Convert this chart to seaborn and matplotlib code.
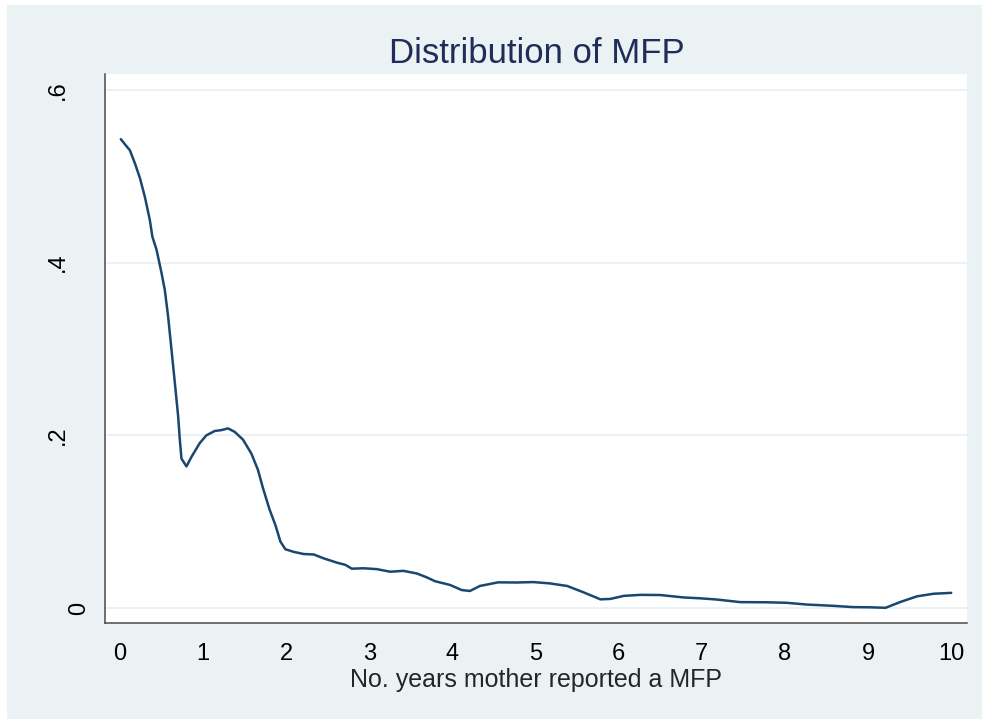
import matplotlib
matplotlib.use("Agg")
import matplotlib.pyplot as plt
import seaborn as sns
import pandas as pd
from matplotlib.patches import Rectangle

# ---- data ----
years = [0.01, 0.12, 0.18, 0.24, 0.30, 0.36, 0.39, 0.44, 0.50, 0.54, 0.58, 0.62,
         0.66, 0.70, 0.72, 0.74, 0.80, 0.86, 0.96, 1.04, 1.14, 1.22, 1.30, 1.38,
         1.48, 1.58, 1.66, 1.72, 1.80, 1.87, 1.93, 1.99, 2.09, 2.21, 2.33, 2.45,
         2.61, 2.71, 2.79, 2.93, 3.09, 3.25, 3.41, 3.57, 3.69, 3.79, 3.97, 4.11,
         4.21, 4.33, 4.55, 4.77, 4.97, 5.17, 5.38, 5.58, 5.78, 5.90, 6.06, 6.26,
         6.50, 6.78, 6.98, 7.18, 7.46, 7.78, 8.02, 8.26, 8.58, 8.82, 9.02, 9.21,
         9.39, 9.59, 9.79, 10.0]
density = [0.543, 0.530, 0.515, 0.498, 0.476, 0.449, 0.430, 0.415, 0.388, 0.368,
           0.337, 0.299, 0.261, 0.222, 0.195, 0.173, 0.164, 0.175, 0.191, 0.200,
           0.205, 0.206, 0.208, 0.204, 0.195, 0.179, 0.160, 0.139, 0.114, 0.096,
           0.077, 0.068, 0.065, 0.0625, 0.062, 0.0575, 0.0525, 0.050, 0.0455,
           0.046, 0.045, 0.042, 0.043, 0.040, 0.0355, 0.031, 0.0267, 0.0208,
           0.0197, 0.0255, 0.0297, 0.0295, 0.030, 0.0285, 0.0255, 0.018, 0.0100,
           0.0105, 0.0140, 0.0152, 0.0150, 0.0122, 0.0112, 0.0098, 0.0068, 0.0066,
           0.0060, 0.0040, 0.0025, 0.0010, 0.0008, 0.0002, 0.0070, 0.0135,
           0.0165, 0.0175]
x_ticks = [0, 1, 2, 3, 4, 5, 6, 7, 8, 9, 10]
x_tick_labels = ["0", "1", "2", "3", "4", "5", "6", "7", "8", "9", "10"]
y_ticks = [0, 0.2, 0.4, 0.6]
y_tick_labels = ["0", ".2", ".4", ".6"]
title = "Distribution of MFP"
x_label = "No. years mother reported a MFP"

df = pd.DataFrame({"years": years, "density": density})

sns.set_style("white")
plt.rcParams["font.family"] = ["Liberation Sans", "DejaVu Sans"]

BG = "#EAF2F3"
NAVY = "#1A476F"

fig = plt.figure(figsize=(9.82, 7.19), dpi=100, facecolor="white")
fig.patches.append(Rectangle((7 / 982, 0), 1, 1 - 5 / 719, transform=fig.transFigure,
                             facecolor=BG, edgecolor="none", zorder=-10))

ax = fig.add_axes([105 / 982, 96 / 719, 862 / 982, 549 / 719])
ax.set_facecolor("white")

sns.lineplot(data=df, x="years", y="density", ax=ax, color=NAVY, linewidth=1.8,
             zorder=3)

ax.set_xlim(-0.18, 10.19)
ax.set_ylim(-0.0174, 0.6185)

ax.set_xticks(x_ticks)
ax.set_xticklabels(x_tick_labels, fontsize=17)
ax.set_yticks(y_ticks)
ax.set_yticklabels(y_tick_labels, fontsize=17, rotation=90, va="center")

ax.yaxis.grid(True, color=BG, linewidth=1.4)
ax.xaxis.grid(False)
ax.set_axisbelow(True)

for side in ["top", "right"]:
    ax.spines[side].set_visible(False)
for side in ["left", "bottom"]:
    ax.spines[side].set_color("#4a4a4a")
    ax.spines[side].set_linewidth(1.1)

ax.tick_params(axis="both", direction="out", length=7.5, width=0.9,
               color="#333333", labelcolor="black")
ax.tick_params(axis="x", pad=7)

# individual label offsets as in the reference (zero label sits closer)
for tick, lab in zip(ax.yaxis.get_major_ticks(), y_tick_labels):
    tick.set_pad(3.4 if lab == "0" else 18.5)

ax.set_xlabel(x_label, fontsize=18, labelpad=2)
ax.set_ylabel("")

fig.text(537 / 982, 1 - 63 / 719, title, ha="center", va="baseline",
         fontsize=25, color="#1E2D5A")

fig.savefig("out.png", dpi=100, facecolor=fig.get_facecolor())
